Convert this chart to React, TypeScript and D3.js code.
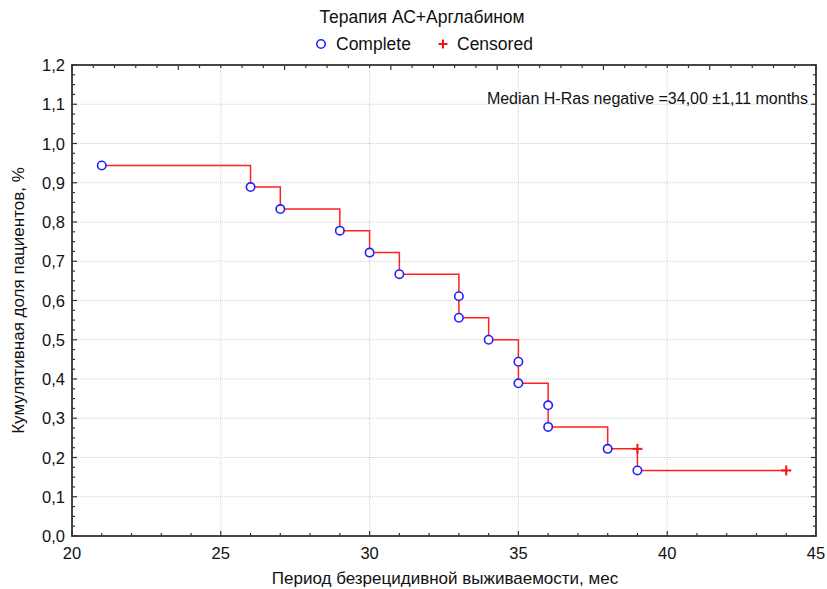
import React from "react";
import * as d3 from "d3";

const completeTimes = [21, 26, 27, 29, 30, 31, 33, 33, 34, 35, 35, 36, 36, 38, 39];
const completeValues = [0.944, 0.889, 0.833, 0.778, 0.722, 0.667, 0.611, 0.556, 0.5, 0.444, 0.389, 0.333, 0.278, 0.222, 0.167];
const censoredTimes = [39, 44];
const censoredValues = [0.222, 0.167];
const xTicks = [20, 25, 30, 35, 40, 45];
const yTicks = [0, 0.1, 0.2, 0.3, 0.4, 0.5, 0.6, 0.7, 0.8, 0.9, 1.0, 1.1, 1.2];

const title = "Терапия АС+Арглабином";
const xLabel = "Период безрецидивной выживаемости, мес";
const yLabel = "Кумулятивная доля пациентов, %";
const note = "Median H-Ras negative =34,00 ±1,11 months";

const W = 827, H = 589;
const L = 72, R = 816, T = 65, B = 536;
const FONT = "'Liberation Sans', Arial, sans-serif";

export default function App() {
  const x = d3.scaleLinear().domain([20, 45]).range([L, R]);
  const y = d3.scaleLinear().domain([0, 1.2]).range([B, T]);
  const fmt = (v: number) => v.toFixed(1).replace(".", ",");

  const pts: [number, number][] = [];
  completeTimes.forEach((t, i) => pts.push([t, completeValues[i]]));
  censoredTimes.forEach((t, i) => pts.push([t, censoredValues[i]]));
  pts.sort((a, b) => a[0] - b[0] || b[1] - a[1]);
  const line = d3.line<[number, number]>().x(d => x(d[0])).y(d => y(d[1])).curve(d3.curveStepAfter);

  const xMinor = d3.range(20, 45.001, 1);
  const yMinor = d3.range(0, 1.2001, 0.025);
  const topScale = d3.scaleLinear().domain([0, 35]).range([L, R]);
  const topMinor = d3.range(0, 36, 1);

  const axisColor = "#333";
  return (
    <svg width={W} height={H} style={{ position: "absolute", left: 0, top: 0, background: "#fff" }} fontFamily={FONT}>
      <rect x={0} y={0} width={W} height={H} fill="#fff" />
      {xTicks.slice(1, -1).map(t => (
        <line key={"gx" + t} x1={x(t)} x2={x(t)} y1={T} y2={B} stroke="#d0d0d0" strokeDasharray="1,1" />
      ))}
      {yTicks.slice(1, -1).map(t => (
        <line key={"gy" + t} x1={L} x2={R} y1={y(t)} y2={y(t)} stroke="#d0d0d0" strokeDasharray="1,1" />
      ))}
      {xMinor.map(t => {
        const major = Math.abs(t % 5) < 1e-6;
        return <line key={"bx" + t} x1={x(t)} x2={x(t)} y1={B} y2={B - (major ? 5 : 3)} stroke={axisColor} strokeWidth={1.2} />;
      })}
      {topMinor.map(t => {
        const major = t % 5 === 0;
        return <line key={"tx" + t} x1={topScale(t)} x2={topScale(t)} y1={T} y2={T + (major ? 5 : 3)} stroke={axisColor} strokeWidth={1.2} />;
      })}
      {yMinor.map((t, i) => {
        const major = i % 4 === 0;
        return (
          <g key={"ly" + i}>
            <line x1={L} x2={L + (major ? 5 : 3)} y1={y(t)} y2={y(t)} stroke={axisColor} strokeWidth={1.2} />
            <line x1={R} x2={R - (major ? 5 : 3)} y1={y(t)} y2={y(t)} stroke={axisColor} strokeWidth={1.2} />
          </g>
        );
      })}
      <rect x={L} y={T} width={R - L} height={B - T} fill="none" stroke={axisColor} strokeWidth={1.8} />
      {xTicks.map(t => (
        <text key={"xl" + t} x={x(t)} y={B + 23} textAnchor="middle" fontSize={16.5} fill="#111">{t}</text>
      ))}
      {yTicks.map(t => (
        <text key={"yl" + t} x={L - 7} y={y(t) + 6} textAnchor="end" fontSize={16.5} fill="#111">{fmt(t)}</text>
      ))}
      <path d={line(pts) || ""} fill="none" stroke="#ff2020" strokeWidth={1.5} />
      {completeTimes.map((t, i) => (
        <circle key={"c" + i} cx={x(t)} cy={y(completeValues[i])} r={4.2} fill="#fff" stroke="#2020ff" strokeWidth={1.6} />
      ))}
      {censoredTimes.map((t, i) => (
        <g key={"k" + i} stroke="#ff1010" strokeWidth={2}>
          <line x1={x(t) - 5} x2={x(t) + 5} y1={y(censoredValues[i])} y2={y(censoredValues[i])} />
          <line x1={x(t)} x2={x(t)} y1={y(censoredValues[i]) - 5} y2={y(censoredValues[i]) + 5} />
        </g>
      ))}
      <text x={422} y={23} textAnchor="middle" fontSize={17.5} fill="#111">{title}</text>
      <circle cx={321} cy={44} r={4.2} fill="#fff" stroke="#2020ff" strokeWidth={1.6} />
      <text x={336} y={50} fontSize={17.5} fill="#111">Complete</text>
      <g stroke="#ff1010" strokeWidth={2}>
        <line x1={438.5} x2={447.5} y1={44} y2={44} />
        <line x1={443} x2={443} y1={39.5} y2={48.5} />
      </g>
      <text x={457} y={50} fontSize={17.5} fill="#111">Censored</text>
      <text x={808} y={104} textAnchor="end" fontSize={16} fill="#111">{note}</text>
      <text x={445} y={584} textAnchor="middle" fontSize={17} fill="#111">{xLabel}</text>
      <text transform={`translate(24,${(T + B) / 2}) rotate(-90)`} textAnchor="middle" fontSize={17} fill="#111">{yLabel}</text>
    </svg>
  );
}
